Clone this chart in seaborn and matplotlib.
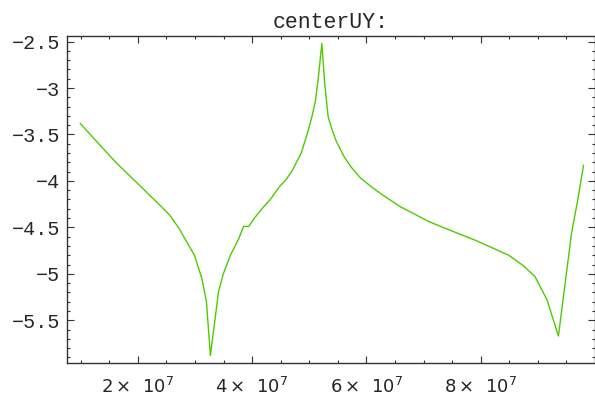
import numpy as np
import seaborn as sns
import matplotlib
matplotlib.use("Agg")
import matplotlib.pyplot as plt
from matplotlib.ticker import MultipleLocator

# curve values (x in units of 1e7)
x_vals = [0.99, 1.30, 1.63, 1.90, 2.15, 2.40, 2.56, 2.73, 2.82, 2.99, 3.12, 3.20,
          3.27, 3.41, 3.49, 3.62, 3.76, 3.85, 3.94, 4.04, 4.20, 4.33, 4.48, 4.59,
          4.71, 4.80, 4.86, 4.97, 5.05, 5.11, 5.16, 5.22, 5.27, 5.33, 5.40, 5.47,
          5.61, 5.73, 5.90, 6.10, 6.28, 6.60, 7.10, 7.50, 7.91, 8.20, 8.49, 8.74,
          8.95, 9.16, 9.36, 9.59, 9.70, 9.80]
y_vals = [-3.38, -3.59, -3.81, -3.97, -4.12, -4.27, -4.37, -4.52, -4.62, -4.80, -5.05, -5.30,
          -5.88, -5.20, -5.01, -4.80, -4.63, -4.49, -4.49, -4.40, -4.28, -4.19, -4.06, -3.99,
          -3.88, -3.77, -3.70, -3.48, -3.30, -3.13, -2.88, -2.52, -2.95, -3.31, -3.45, -3.57,
          -3.74, -3.85, -3.97, -4.07, -4.15, -4.28, -4.44, -4.54, -4.64, -4.72, -4.80, -4.91,
          -5.03, -5.28, -5.67, -4.56, -4.20, -3.83]

xtick_pos = [2e7, 4e7, 6e7, 8e7]
xtick_labels = [r"$2\times\;\,10^{7}$", r"$4\times\;\,10^{7}$", r"$6\times\;\,10^{7}$", r"$8\times\;\,10^{7}$"]
ytick_pos = [-2.5, -3, -3.5, -4, -4.5, -5, -5.5]
ytick_labels = ["\u22122.5", "\u22123", "\u22123.5", "\u22124", "\u22124.5", "\u22125", "\u22125.5"]

sns.set_style("ticks")
plt.rcParams["font.family"] = ["Liberation Mono", "DejaVu Sans"]

fig = plt.figure(figsize=(5.95, 4.03), dpi=100)
ax = fig.add_axes([0.1126, 0.0993, 0.8874, 0.8114])

x = np.array(x_vals) * 1e7
sns.lineplot(x=x, y=y_vals, ax=ax, color="#4ccc00", linewidth=1.0, estimator=None, sort=False)

ax.set_xlim(0.76e7, 1.0e8)
ax.set_ylim(-5.96, -2.44)

ax.set_xticks(xtick_pos)
ax.set_xticklabels(xtick_labels, fontsize=13, family="DejaVu Sans")
ax.set_yticks(ytick_pos)
ax.set_yticklabels(ytick_labels, fontsize=14.5)
ax.xaxis.set_minor_locator(MultipleLocator(0.5e7))
ax.yaxis.set_minor_locator(MultipleLocator(0.1))

ax.tick_params(which="both", direction="in", top=True, right=True, color="#333333", width=0.8)
ax.tick_params(which="major", length=5)
ax.tick_params(which="minor", length=2.5)
ax.tick_params(axis="x", which="major", pad=10)
ax.tick_params(axis="y", which="major", pad=5)

for s in ax.spines.values():
    s.set_visible(True)
    s.set_color("#333333")
    s.set_linewidth(1.0)

ax.set_title("centerUY:", fontsize=15.5, pad=6)
ax.set_xlabel("")
ax.set_ylabel("")

fig.savefig("out.png", dpi=100)
